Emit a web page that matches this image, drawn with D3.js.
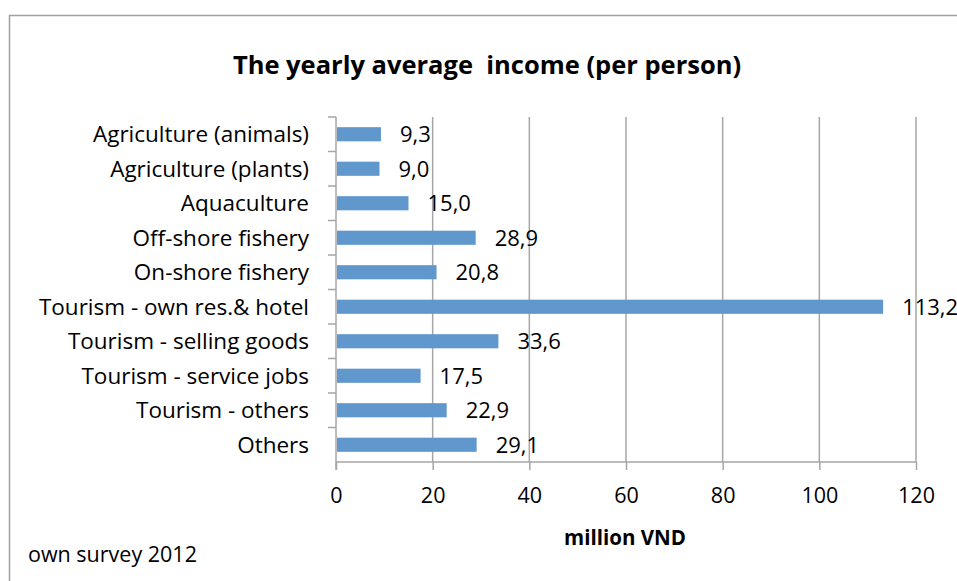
<!DOCTYPE html>
<html>
<head>
<meta charset="utf-8">
<script src="https://cdn.jsdelivr.net/npm/d3@7"></script>
<style>
  body { margin: 0; background: #fff; }
  svg { display: block; font-family: "Open Sans", "Liberation Sans", sans-serif; }
</style>
</head>
<body>
<div id="chart"></div>
<script>
// data
const categories = [
  'Agriculture (animals)',
  'Agriculture (plants)',
  'Aquaculture',
  'Off-shore fishery',
  'On-shore fishery',
  'Tourism - own res.& hotel',
  'Tourism - selling goods',
  'Tourism - service jobs',
  'Tourism - others',
  'Others'
];
const incomes = [9.3, 9.0, 15.0, 28.9, 20.8, 113.2, 33.6, 17.5, 22.9, 29.1];
const xTicks = [0, 20, 40, 60, 80, 100, 120];

const width = 957,
      height = 581,
      margin = {top: 117, left: 336, bottom: 119, right: 41},
      barColor = '#6097cd',
      gridColor = '#a6a6a6';

let svg = d3.select('#chart')
  .append('svg')
  .attr('width', width)
  .attr('height', height);

// outer chart frame (runs off right/bottom edge)
svg.append('rect')
  .attr('x', 9.5)
  .attr('y', 15.5)
  .attr('width', 1000)
  .attr('height', 1000)
  .attr('fill', 'none')
  .attr('stroke', '#a0a0a0')
  .attr('stroke-width', 1.5);

let x = d3.scaleLinear()
  .domain([0, 120])
  .range([margin.left, width - margin.right]);

let y = d3.scaleBand()
  .domain(categories)
  .range([margin.top, height - margin.bottom])
  .paddingInner(0.59)
  .paddingOuter(0.295);

let yBand = d3.scaleBand()
  .domain(categories)
  .range([margin.top, height - margin.bottom]);

// title
svg.append('text')
  .attr('x', 487)
  .attr('y', 74)
  .attr('text-anchor', 'middle')
  .attr('xml:space', 'preserve')
  .style('font-size', '25.5px')
  .style('font-weight', 'bold')
  .text('The yearly average  income (per person)');

// vertical gridlines
svg.append('g')
  .selectAll('line')
  .data(xTicks.slice(1))
  .enter()
  .append('line')
  .attr('x1', d => x(d))
  .attr('x2', d => x(d))
  .attr('y1', margin.top)
  .attr('y2', height - margin.bottom)
  .attr('stroke', gridColor)
  .attr('stroke-width', 1.5);

// x axis
let xAxis = svg.append('g')
  .attr('transform', `translate(0, ${height - margin.bottom})`)
  .call(d3.axisBottom(x).tickValues(xTicks).tickSize(8).tickPadding(18));
xAxis.select('.domain').attr('stroke', gridColor).attr('stroke-width', 1.5)
  .attr('d', `M${x(0)},0H${x(120)}`);
xAxis.selectAll('.tick line').attr('stroke', gridColor).attr('stroke-width', 1.5);
xAxis.selectAll('.tick text')
  .style('font-size', '21.5px')
  .style('font-family', '"Open Sans", sans-serif')
  .attr('fill', '#000');

// y axis line + ticks at category boundaries
let yAxisG = svg.append('g');
yAxisG.append('line')
  .attr('x1', x(0)).attr('x2', x(0))
  .attr('y1', margin.top).attr('y2', height - margin.bottom + 8)
  .attr('stroke', gridColor).attr('stroke-width', 1.5);
yAxisG.selectAll('.ytick')
  .data(categories)
  .enter()
  .append('line')
  .attr('class', 'ytick')
  .attr('x1', x(0) - 8).attr('x2', x(0))
  .attr('y1', d => yBand(d)).attr('y2', d => yBand(d))
  .attr('stroke', gridColor).attr('stroke-width', 1.5);

// category labels
svg.append('g')
  .selectAll('text')
  .data(categories)
  .enter()
  .append('text')
  .attr('x', 309)
  .attr('y', d => yBand(d) + yBand.bandwidth() / 2)
  .attr('dy', '0.36em')
  .attr('text-anchor', 'end')
  .style('font-size', '22.5px')
  .text(d => d);

// bars
svg.append('g')
  .selectAll('rect')
  .data(incomes)
  .enter()
  .append('rect')
  .attr('x', x(0) + 1)
  .attr('y', (d, i) => y(categories[i]))
  .attr('width', d => x(d) - x(0) - 1)
  .attr('height', y.bandwidth())
  .attr('fill', barColor);

// value labels
const fmt = d => d3.format('.1f')(d).replace('.', ',');
svg.append('g')
  .selectAll('text')
  .data(incomes)
  .enter()
  .append('text')
  .attr('x', d => x(d) + 19)
  .attr('y', (d, i) => yBand(categories[i]) + yBand.bandwidth() / 2)
  .attr('dy', '0.36em')
  .style('font-size', '22px')
  .text(d => fmt(d));

// axis title
svg.append('text')
  .attr('x', 625)
  .attr('y', 545)
  .attr('text-anchor', 'middle')
  .style('font-size', '20.5px')
  .style('font-weight', 'bold')
  .text('million VND');

// source note
svg.append('text')
  .attr('x', 28)
  .attr('y', 562)
  .style('font-size', '21.5px')
  .text('own survey 2012');
</script>
</body>
</html>
